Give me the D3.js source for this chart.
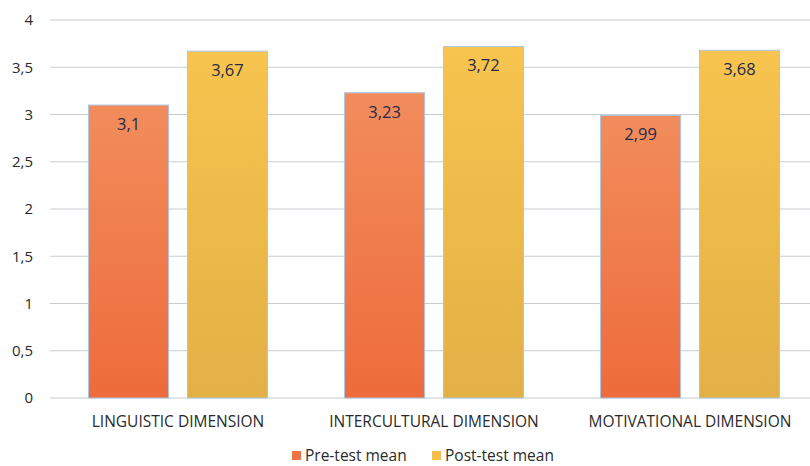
<!DOCTYPE html>
<html>
<head>
<meta charset="utf-8">
<script src="https://cdn.jsdelivr.net/npm/d3@7"></script>
<style>
  body { margin: 0; background: #fff; }
  svg text { font-family: "Open Sans", "Noto Sans", sans-serif; }
</style>
</head>
<body>
<div id="chart"></div>
<script>
const width = 810;
const height = 466;

const categories = ["LINGUISTIC DIMENSION", "INTERCULTURAL DIMENSION", "MOTIVATIONAL DIMENSION"];
const seriesNames = ["Pre-test mean", "Post-test mean"];
const preValues = [3.1, 3.23, 2.99];
const postValues = [3.67, 3.72, 3.68];
const yTicks = [0, 0.5, 1, 1.5, 2, 2.5, 3, 3.5, 4];

const margin = {top: 20, right: -8, bottom: 68, left: 50};

const svg = d3.select("#chart")
  .append("svg")
  .attr("width", width)
  .attr("height", height);

const defs = svg.append("defs");
const grads = [
  {id: "gPre", top: "#f28c5c", bottom: "#ee6b3b"},
  {id: "gPost", top: "#f7c44f", bottom: "#e2b045"}
];
grads.forEach(g => {
  const lg = defs.append("linearGradient")
    .attr("id", g.id)
    .attr("x1", "0%").attr("y1", "0%")
    .attr("x2", "0%").attr("y2", "100%");
  lg.append("stop").attr("offset", "0%").attr("stop-color", g.top);
  lg.append("stop").attr("offset", "100%").attr("stop-color", g.bottom);
});

const x0 = d3.scaleBand()
  .domain(categories)
  .range([margin.left, width - margin.right])
  .paddingInner(0)
  .paddingOuter(0);

const x1 = d3.scaleBand()
  .domain(seriesNames)
  .range([0, x0.bandwidth()])
  .paddingInner(0.19)
  .paddingOuter(0.39);

const y = d3.scaleLinear()
  .domain([0, 4])
  .range([height - margin.bottom, margin.top]);

// gridlines
svg.append("g")
  .selectAll("line")
  .data(yTicks)
  .join("line")
  .attr("x1", margin.left)
  .attr("x2", width)
  .attr("y1", d => y(d))
  .attr("y2", d => y(d))
  .attr("stroke", "#c9ccd3")
  .attr("stroke-width", 1.2);

// y axis labels
const fmt = d => String(d).replace(".", ",");
svg.append("g")
  .selectAll("text")
  .data(yTicks)
  .join("text")
  .attr("x", 33)
  .attr("y", d => y(d))
  .attr("dy", "0.35em")
  .attr("text-anchor", "end")
  .attr("font-size", 15)
  .attr("fill", "#2a2a2a")
  .text(fmt);

const rows = categories.map((c, i) => ({cat: c, vals: [preValues[i], postValues[i]]}));

const groups = svg.append("g")
  .selectAll("g")
  .data(rows)
  .join("g")
  .attr("transform", d => `translate(${x0(d.cat)},0)`);

groups.selectAll("rect")
  .data(d => d.vals.map((v, j) => ({key: seriesNames[j], v, j})))
  .join("rect")
  .attr("x", d => x1(d.key))
  .attr("y", d => y(d.v))
  .attr("width", x1.bandwidth())
  .attr("height", d => y(0) - y(d.v))
  .attr("fill", d => `url(#${grads[d.j].id})`)
  .attr("stroke", "#a9c6e4")
  .attr("stroke-width", 1);

groups.selectAll("text.val")
  .data(d => d.vals.map((v, j) => ({key: seriesNames[j], v, j})))
  .join("text")
  .attr("class", "val")
  .attr("x", d => x1(d.key) + x1.bandwidth() / 2)
  .attr("y", d => y(d.v) + 25)
  .attr("text-anchor", "middle")
  .attr("font-size", 16.5)
  .attr("font-weight", 500)
  .attr("fill", "#262a4a")
  .text(d => fmt(d.v));

// x labels
svg.append("g")
  .selectAll("text")
  .data(categories)
  .join("text")
  .attr("x", d => x0(d) + x0.bandwidth() / 2)
  .attr("y", 427)
  .attr("text-anchor", "middle")
  .attr("font-size", 15.5)
  .attr("fill", "#2a2a2a")
  .text(d => d);

// legend
const legend = svg.append("g");
const legendItems = [
  {name: seriesNames[0], color: "#ef7442", x: 292},
  {name: seriesNames[1], color: "#f4bd4c", x: 432}
];
legendItems.forEach(it => {
  legend.append("rect")
    .attr("x", it.x)
    .attr("y", 451)
    .attr("width", 9)
    .attr("height", 9)
    .attr("fill", it.color);
  legend.append("text")
    .attr("x", it.x + 13)
    .attr("y", 461)
    .attr("font-size", 15.5)
    .attr("fill", "#2a2a2a")
    .text(it.name);
});
</script>
</body>
</html>
